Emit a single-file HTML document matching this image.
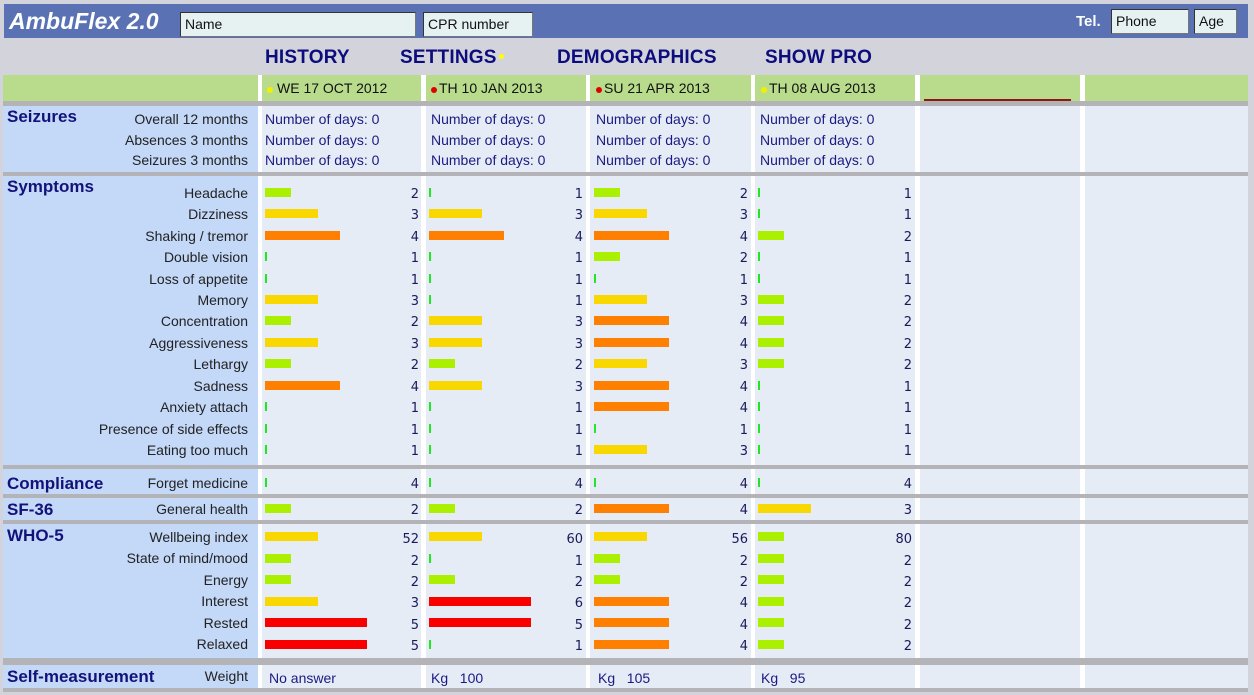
<!DOCTYPE html>
<html><head><meta charset="utf-8"><style>
*{margin:0;padding:0;box-sizing:border-box}
body{width:1254px;height:695px;background:#d3d3dc;position:relative;overflow:hidden;font-family:"Liberation Sans",Arial,sans-serif}
div{position:absolute}
.hdr{left:4px;top:4px;width:1244px;height:34px;background:#5a72b4}
.inp{background:#e6f2f2;border:1px solid #333;border-right-color:#777;border-bottom-color:#777;font-size:14px;color:#111;padding:2px 4px;height:25px;line-height:19px}
.nav{top:47px;font-size:19px;font-weight:bold;color:#0c0c7c;letter-spacing:0.2px}
.g{background:#b8dc8c}
.lab{background:#c4d8f8}
.dat{background:#e6ecf6}
.sep{left:3px;width:1245px;background:#b4b4b8}
.sec{left:7px;font-weight:bold;color:#12127a;font-size:17px}
.l{right:1006px;font-size:14px;color:#222;white-space:nowrap;line-height:16px}
.t{font-size:14px;color:#1a1a82;white-space:nowrap;line-height:16px}
.b{height:9px}
.c1{width:2px;background:#22e622}
.c2{width:26px;background:#aaf000}
.c3{width:53px;background:#f8d800}
.c4{width:75px;background:#ff8000}
.c5{width:102px;background:#f80000}
.n{font-family:"DejaVu Sans",sans-serif;font-size:13px;color:#1a1a5a;text-align:right;width:40px;line-height:16px;margin-top:2px}
.dt{top:80px;font-size:14px;color:#111}
.dot{width:6px;height:6px;border-radius:3px;top:87px}
</style></head><body>
<div class="hdr"></div>
<div style="left:9px;top:8px;font-size:23px;font-weight:bold;font-style:italic;color:#fff">AmbuFlex 2.0</div>
<div class="inp" style="left:180px;top:12px;width:236px">Name</div>
<div class="inp" style="left:423px;top:12px;width:110px">CPR number</div>
<div style="left:1076px;top:13px;font-size:15px;font-weight:bold;color:#fff">Tel.</div>
<div class="inp" style="left:1111px;top:9px;width:78px">Phone</div>
<div class="inp" style="left:1194px;top:9px;width:43px">Age</div>

<div class="nav" style="left:265px">HISTORY</div>
<div class="nav" style="left:400px">SETTINGS</div>
<div style="left:499px;top:54px;width:5px;height:5px;border-radius:3px;background:#ffff00"></div>
<div class="nav" style="left:557px">DEMOGRAPHICS</div>
<div class="nav" style="left:765px">SHOW PRO</div>

<div style="left:3px;top:75px;width:1245px;height:613px;background:#fff"></div>
<!-- green date row -->
<div class="g" style="left:3px;top:75px;width:255px;height:26px"></div>
<div class="g" style="left:262px;top:75px;width:159px;height:26px"></div>
<div class="g" style="left:426px;top:75px;width:160px;height:26px"></div>
<div class="g" style="left:590px;top:75px;width:161px;height:26px"></div>
<div class="g" style="left:755px;top:75px;width:160px;height:26px"></div>
<div class="g" style="left:920px;top:75px;width:160px;height:26px"></div>
<div class="g" style="left:1085px;top:75px;width:163px;height:26px"></div>
<div class="dot" style="left:267px;background:#f0f000"></div><div class="dt" style="left:277px">WE 17 OCT 2012</div>
<div class="dot" style="left:431px;background:#e00000"></div><div class="dt" style="left:439px">TH 10 JAN 2013</div>
<div class="dot" style="left:596px;background:#e00000"></div><div class="dt" style="left:604px">SU 21 APR 2013</div>
<div class="dot" style="left:761px;background:#f0f000"></div><div class="dt" style="left:769px">TH 08 AUG 2013</div>
<div style="left:924px;top:99px;width:147px;height:2px;background:#8a1a10"></div>

<!-- section backgrounds -->
<div class="lab" style="left:3px;top:106px;width:255px;height:582px"></div>
<div class="dat" style="left:262px;top:106px;width:159px;height:582px"></div>
<div class="dat" style="left:426px;top:106px;width:160px;height:582px"></div>
<div class="dat" style="left:590px;top:106px;width:161px;height:582px"></div>
<div class="dat" style="left:755px;top:106px;width:160px;height:582px"></div>
<div class="dat" style="left:920px;top:106px;width:160px;height:582px"></div>
<div class="dat" style="left:1085px;top:106px;width:163px;height:582px"></div>
<div class="sep" style="top:101px;height:5px"></div>
<div class="sep" style="top:172px;height:4px"></div>
<div class="sep" style="top:465px;height:4px"></div>
<div class="sep" style="top:494px;height:4px"></div>
<div class="sep" style="top:520px;height:4px"></div>
<div class="sep" style="top:658px;height:7px"></div>
<div class="sep" style="top:688px;height:4px"></div>

<!-- Seizures -->
<div class="sec" style="top:107px">Seizures</div>
<div class="l" style="top:111px">Overall 12 months</div>
<div class="l" style="top:132px">Absences 3 months</div>
<div class="l" style="top:152px">Seizures 3 months</div>
<div class="t" style="left:265px;top:111px">Number of days: 0</div>
<div class="t" style="left:265px;top:132px">Number of days: 0</div>
<div class="t" style="left:265px;top:152px">Number of days: 0</div>
<div class="t" style="left:431px;top:111px">Number of days: 0</div>
<div class="t" style="left:431px;top:132px">Number of days: 0</div>
<div class="t" style="left:431px;top:152px">Number of days: 0</div>
<div class="t" style="left:596px;top:111px">Number of days: 0</div>
<div class="t" style="left:596px;top:132px">Number of days: 0</div>
<div class="t" style="left:596px;top:152px">Number of days: 0</div>
<div class="t" style="left:760px;top:111px">Number of days: 0</div>
<div class="t" style="left:760px;top:132px">Number of days: 0</div>
<div class="t" style="left:760px;top:152px">Number of days: 0</div>

<!-- Symptoms -->
<div class="sec" style="top:177px">Symptoms</div>
<div class="l" style="top:185px">Headache</div>
<div class="l" style="top:206px">Dizziness</div>
<div class="l" style="top:228px">Shaking / tremor</div>
<div class="l" style="top:249px">Double vision</div>
<div class="l" style="top:271px">Loss of appetite</div>
<div class="l" style="top:292px">Memory</div>
<div class="l" style="top:313px">Concentration</div>
<div class="l" style="top:335px">Aggressiveness</div>
<div class="l" style="top:356px">Lethargy</div>
<div class="l" style="top:378px">Sadness</div>
<div class="l" style="top:399px">Anxiety attach</div>
<div class="l" style="top:421px">Presence of side effects</div>
<div class="l" style="top:442px">Eating too much</div>

<div class="b c2" style="left:265px;top:188px"></div><div class="n" style="left:379px;top:185px">2</div>
<div class="b c3" style="left:265px;top:209px"></div><div class="n" style="left:379px;top:206px">3</div>
<div class="b c4" style="left:265px;top:231px"></div><div class="n" style="left:379px;top:228px">4</div>
<div class="b c1" style="left:265px;top:252px"></div><div class="n" style="left:379px;top:249px">1</div>
<div class="b c1" style="left:265px;top:274px"></div><div class="n" style="left:379px;top:271px">1</div>
<div class="b c3" style="left:265px;top:295px"></div><div class="n" style="left:379px;top:292px">3</div>
<div class="b c2" style="left:265px;top:316px"></div><div class="n" style="left:379px;top:313px">2</div>
<div class="b c3" style="left:265px;top:338px"></div><div class="n" style="left:379px;top:335px">3</div>
<div class="b c2" style="left:265px;top:359px"></div><div class="n" style="left:379px;top:356px">2</div>
<div class="b c4" style="left:265px;top:381px"></div><div class="n" style="left:379px;top:378px">4</div>
<div class="b c1" style="left:265px;top:402px"></div><div class="n" style="left:379px;top:399px">1</div>
<div class="b c1" style="left:265px;top:424px"></div><div class="n" style="left:379px;top:421px">1</div>
<div class="b c1" style="left:265px;top:445px"></div><div class="n" style="left:379px;top:442px">1</div>
<div class="b c1" style="left:429px;top:188px"></div><div class="n" style="left:543px;top:185px">1</div>
<div class="b c3" style="left:429px;top:209px"></div><div class="n" style="left:543px;top:206px">3</div>
<div class="b c4" style="left:429px;top:231px"></div><div class="n" style="left:543px;top:228px">4</div>
<div class="b c1" style="left:429px;top:252px"></div><div class="n" style="left:543px;top:249px">1</div>
<div class="b c1" style="left:429px;top:274px"></div><div class="n" style="left:543px;top:271px">1</div>
<div class="b c1" style="left:429px;top:295px"></div><div class="n" style="left:543px;top:292px">1</div>
<div class="b c3" style="left:429px;top:316px"></div><div class="n" style="left:543px;top:313px">3</div>
<div class="b c3" style="left:429px;top:338px"></div><div class="n" style="left:543px;top:335px">3</div>
<div class="b c2" style="left:429px;top:359px"></div><div class="n" style="left:543px;top:356px">2</div>
<div class="b c3" style="left:429px;top:381px"></div><div class="n" style="left:543px;top:378px">3</div>
<div class="b c1" style="left:429px;top:402px"></div><div class="n" style="left:543px;top:399px">1</div>
<div class="b c1" style="left:429px;top:424px"></div><div class="n" style="left:543px;top:421px">1</div>
<div class="b c1" style="left:429px;top:445px"></div><div class="n" style="left:543px;top:442px">1</div>
<div class="b c2" style="left:594px;top:188px"></div><div class="n" style="left:708px;top:185px">2</div>
<div class="b c3" style="left:594px;top:209px"></div><div class="n" style="left:708px;top:206px">3</div>
<div class="b c4" style="left:594px;top:231px"></div><div class="n" style="left:708px;top:228px">4</div>
<div class="b c2" style="left:594px;top:252px"></div><div class="n" style="left:708px;top:249px">2</div>
<div class="b c1" style="left:594px;top:274px"></div><div class="n" style="left:708px;top:271px">1</div>
<div class="b c3" style="left:594px;top:295px"></div><div class="n" style="left:708px;top:292px">3</div>
<div class="b c4" style="left:594px;top:316px"></div><div class="n" style="left:708px;top:313px">4</div>
<div class="b c4" style="left:594px;top:338px"></div><div class="n" style="left:708px;top:335px">4</div>
<div class="b c3" style="left:594px;top:359px"></div><div class="n" style="left:708px;top:356px">3</div>
<div class="b c4" style="left:594px;top:381px"></div><div class="n" style="left:708px;top:378px">4</div>
<div class="b c4" style="left:594px;top:402px"></div><div class="n" style="left:708px;top:399px">4</div>
<div class="b c1" style="left:594px;top:424px"></div><div class="n" style="left:708px;top:421px">1</div>
<div class="b c3" style="left:594px;top:445px"></div><div class="n" style="left:708px;top:442px">3</div>
<div class="b c1" style="left:758px;top:188px"></div><div class="n" style="left:872px;top:185px">1</div>
<div class="b c1" style="left:758px;top:209px"></div><div class="n" style="left:872px;top:206px">1</div>
<div class="b c2" style="left:758px;top:231px"></div><div class="n" style="left:872px;top:228px">2</div>
<div class="b c1" style="left:758px;top:252px"></div><div class="n" style="left:872px;top:249px">1</div>
<div class="b c1" style="left:758px;top:274px"></div><div class="n" style="left:872px;top:271px">1</div>
<div class="b c2" style="left:758px;top:295px"></div><div class="n" style="left:872px;top:292px">2</div>
<div class="b c2" style="left:758px;top:316px"></div><div class="n" style="left:872px;top:313px">2</div>
<div class="b c2" style="left:758px;top:338px"></div><div class="n" style="left:872px;top:335px">2</div>
<div class="b c2" style="left:758px;top:359px"></div><div class="n" style="left:872px;top:356px">2</div>
<div class="b c1" style="left:758px;top:381px"></div><div class="n" style="left:872px;top:378px">1</div>
<div class="b c1" style="left:758px;top:402px"></div><div class="n" style="left:872px;top:399px">1</div>
<div class="b c1" style="left:758px;top:424px"></div><div class="n" style="left:872px;top:421px">1</div>
<div class="b c1" style="left:758px;top:445px"></div><div class="n" style="left:872px;top:442px">1</div>

<!-- Compliance -->
<div class="sec" style="top:474px">Compliance</div>
<div class="l" style="top:475px">Forget medicine</div>
<div class="b c1" style="left:265px;top:478px"></div><div class="n" style="left:379px;top:475px">4</div>
<div class="b c1" style="left:429px;top:478px"></div><div class="n" style="left:543px;top:475px">4</div>
<div class="b c1" style="left:594px;top:478px"></div><div class="n" style="left:708px;top:475px">4</div>
<div class="b c1" style="left:758px;top:478px"></div><div class="n" style="left:872px;top:475px">4</div>

<!-- SF-36 -->
<div class="sec" style="top:500px">SF-36</div>
<div class="l" style="top:501px">General health</div>
<div class="b c2" style="left:265px;top:504px"></div><div class="n" style="left:379px;top:501px">2</div>
<div class="b c2" style="left:429px;top:504px"></div><div class="n" style="left:543px;top:501px">2</div>
<div class="b c4" style="left:594px;top:504px"></div><div class="n" style="left:708px;top:501px">4</div>
<div class="b c3" style="left:758px;top:504px"></div><div class="n" style="left:872px;top:501px">3</div>

<!-- WHO-5 -->
<div class="sec" style="top:526px">WHO-5</div>
<div class="l" style="top:529px">Wellbeing index</div>
<div class="l" style="top:550px">State of mind/mood</div>
<div class="l" style="top:572px">Energy</div>
<div class="l" style="top:593px">Interest</div>
<div class="l" style="top:615px">Rested</div>
<div class="l" style="top:636px">Relaxed</div>
<div class="b c3" style="left:265px;top:532px"></div><div class="n" style="left:379px;top:530px">52</div>
<div class="b c2" style="left:265px;top:554px"></div><div class="n" style="left:379px;top:552px">2</div>
<div class="b c2" style="left:265px;top:575px"></div><div class="n" style="left:379px;top:573px">2</div>
<div class="b c3" style="left:265px;top:597px"></div><div class="n" style="left:379px;top:594px">3</div>
<div class="b c5" style="left:265px;top:618px"></div><div class="n" style="left:379px;top:616px">5</div>
<div class="b c5" style="left:265px;top:640px"></div><div class="n" style="left:379px;top:637px">5</div>
<div class="b c3" style="left:429px;top:532px"></div><div class="n" style="left:543px;top:530px">60</div>
<div class="b c1" style="left:429px;top:554px"></div><div class="n" style="left:543px;top:552px">1</div>
<div class="b c2" style="left:429px;top:575px"></div><div class="n" style="left:543px;top:573px">2</div>
<div class="b c5" style="left:429px;top:597px"></div><div class="n" style="left:543px;top:594px">6</div>
<div class="b c5" style="left:429px;top:618px"></div><div class="n" style="left:543px;top:616px">5</div>
<div class="b c1" style="left:429px;top:640px"></div><div class="n" style="left:543px;top:637px">1</div>
<div class="b c3" style="left:594px;top:532px"></div><div class="n" style="left:708px;top:530px">56</div>
<div class="b c2" style="left:594px;top:554px"></div><div class="n" style="left:708px;top:552px">2</div>
<div class="b c2" style="left:594px;top:575px"></div><div class="n" style="left:708px;top:573px">2</div>
<div class="b c4" style="left:594px;top:597px"></div><div class="n" style="left:708px;top:594px">4</div>
<div class="b c4" style="left:594px;top:618px"></div><div class="n" style="left:708px;top:616px">4</div>
<div class="b c4" style="left:594px;top:640px"></div><div class="n" style="left:708px;top:637px">4</div>
<div class="b c2" style="left:758px;top:532px"></div><div class="n" style="left:872px;top:530px">80</div>
<div class="b c2" style="left:758px;top:554px"></div><div class="n" style="left:872px;top:552px">2</div>
<div class="b c2" style="left:758px;top:575px"></div><div class="n" style="left:872px;top:573px">2</div>
<div class="b c2" style="left:758px;top:597px"></div><div class="n" style="left:872px;top:594px">2</div>
<div class="b c2" style="left:758px;top:618px"></div><div class="n" style="left:872px;top:616px">2</div>
<div class="b c2" style="left:758px;top:640px"></div><div class="n" style="left:872px;top:637px">2</div>

<!-- Self-measurement -->
<div class="sec" style="top:667px">Self-measurement</div>
<div class="l" style="top:668px">Weight</div>
<div class="t" style="left:269px;top:670px">No answer</div>
<div class="t" style="left:431px;top:670px">Kg &nbsp; 100</div>
<div class="t" style="left:598px;top:670px">Kg &nbsp; 105</div>
<div class="t" style="left:761px;top:670px">Kg &nbsp; 95</div>
</body></html>
